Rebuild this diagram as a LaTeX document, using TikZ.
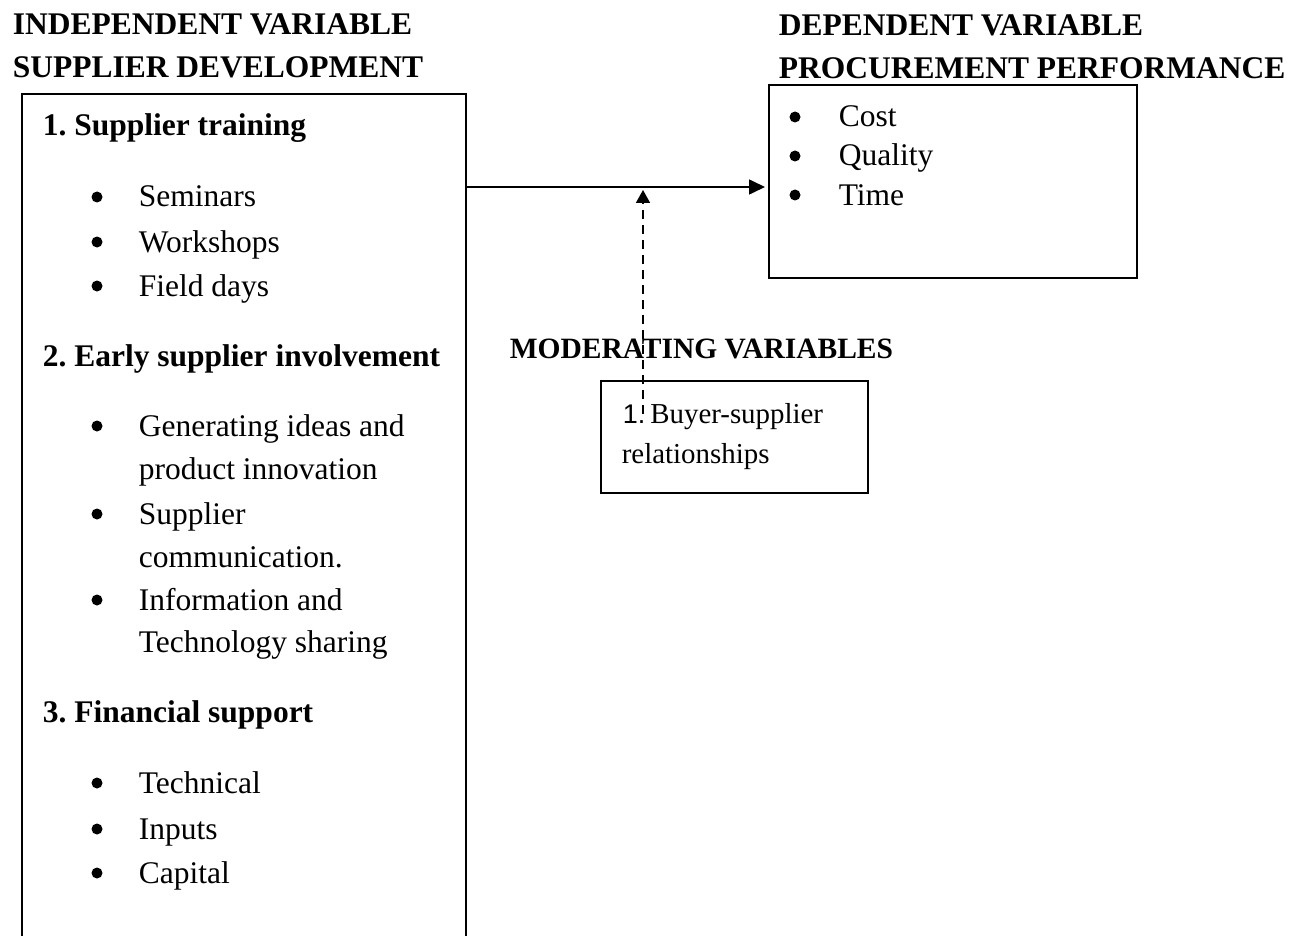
\documentclass[tikz,border=0pt]{standalone}
\usepackage{fontspec}
\setmainfont{Liberation Serif}
\newfontfamily\numfont{Liberation Sans}
\usetikzlibrary{arrows.meta}
\frenchspacing

\begin{document}
\begin{tikzpicture}[x=1pt, y=-1pt, line width=1.6pt,
    box/.style={draw, inner sep=0pt, anchor=north west},
    head/.style={anchor=base west, inner sep=0pt, yshift=-3pt, font=\bfseries\fontsize{31.5}{38}\selectfont},
    txt/.style={anchor=base west, inner sep=0pt, yshift=-3pt, font=\fontsize{31.5}{38}\selectfont},
    bul/.style={circle, fill, draw=none, inner sep=0pt, minimum size=11pt},
    modtxt/.style={anchor=base west, inner sep=0pt, yshift=-3pt, font=\fontsize{28.9}{35}\selectfont}]
    \useasboundingbox (0,0) rectangle (1306,936);

    % headings
    \node[head] (indhead) at (12,32) {INDEPENDENT VARIABLE};
    \node[head] (suphead) at (12,75) {SUPPLIER DEVELOPMENT};
    \node[head] (dephead) at (778,33) {DEPENDENT VARIABLE};
    \node[head] (prochead) at (778,76) {PROCUREMENT PERFORMANCE};
    \node[head, font=\bfseries\fontsize{29.5}{36}\selectfont] (modhead) at (509,355) {MODERATING VARIABLES};

    % boxes
    \node[box, minimum width=444pt, minimum height=870pt] (indep) at (21,93) {};
    \node[box, minimum width=368pt, minimum height=193pt] (dep) at (768,84) {};
    \node[box, minimum width=267pt, minimum height=112pt] (mod) at (600,380) {};

    % independent variable
    \node[head] (train) at (42,133) {1. Supplier training};
    \node[bul] (b1) at (97,197) {};
    \node[txt] (semi) at (138,204) {Seminars};
    \node[bul] (b2) at (97,242) {};
    \node[txt] (work) at (138,249) {Workshops};
    \node[bul] (b3) at (97,286) {};
    \node[txt] (field) at (138,293) {Field days};

    \node[head] (early) at (42,363) {2. Early supplier involvement};
    \node[bul] (b4) at (97,426) {};
    \node[txt] (gen) at (138,433) {Generating ideas and};
    \node[txt] (prod) at (138,476) {product innovation};
    \node[bul] (b5) at (97,514) {};
    \node[txt] (supp) at (138,521) {Supplier};
    \node[txt] (comm) at (138,564) {communication.};
    \node[bul] (b6) at (97,600) {};
    \node[txt] (info) at (138,607) {Information and};
    \node[txt] (tech) at (138,649) {Technology sharing};

    \node[head] (fin) at (42,719) {3. Financial support};
    \node[bul] (b7) at (97,783) {};
    \node[txt] (techn) at (138,790) {Technical};
    \node[bul] (b8) at (97,829) {};
    \node[txt] (inp) at (138,836) {Inputs};
    \node[bul] (b9) at (97,873) {};
    \node[txt] (cap) at (138,880) {Capital};

    % dependent variable
    \node[bul] (c1) at (795,117) {};
    \node[txt] (cost) at (838,124) {Cost};
    \node[bul] (c2) at (795,156) {};
    \node[txt] (qual) at (838,163) {Quality};
    \node[bul] (c3) at (795,195) {};
    \node[txt] (time) at (838,202) {Time};

    % moderating variable
    \node[modtxt] (buyer) at (622,420) {{\numfont\fontsize{27}{33}\selectfont 1.}\hspace{5pt}Buyer-supplier};
    \node[modtxt] (rel) at (621,460) {relationships};

    % arrows
    \coordinate (meet) at (643,187);
    \coordinate (modtail) at (643,414);
    \draw[-{Triangle[length=16pt,width=15pt]}, shorten >=3pt] (indep.east |- meet) -- (dep.west |- meet);
    \draw[dash pattern=on 9pt off 6pt, -{Triangle[length=13pt,width=14pt]}, shorten >=3pt] (modtail) -- (meet);
\end{tikzpicture}
\end{document}
